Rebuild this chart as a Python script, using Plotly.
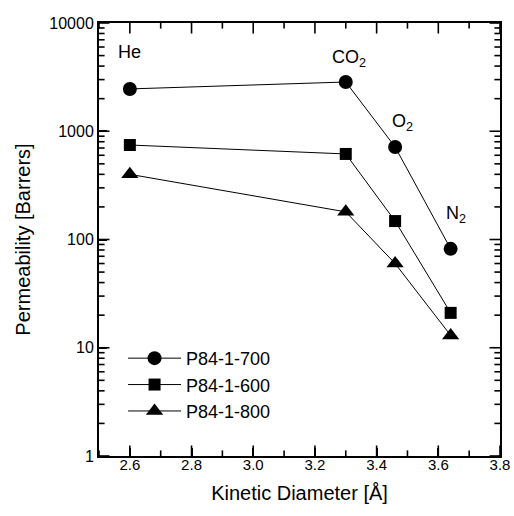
import math
import plotly.graph_objects as go

gases = ["He", "CO<sub>2</sub>", "O<sub>2</sub>", "N<sub>2</sub>"]
diam = [2.6, 3.3, 3.46, 3.64]
p700 = [2460, 2850, 716, 82]
p600 = [746, 617, 148, 21]
p800 = [400, 180, 60, 13]
ytickvals = [1, 10, 100, 1000, 10000]
yticktext = ["1", "10", "100", "1000", "10000"]
xtickvals = [2.6, 2.8, 3.0, 3.2, 3.4, 3.6, 3.8]
xticktext = ["2.6", "2.8", "3.0", "3.2", "3.4", "3.6", "3.8"]
xminor = [2.5, 2.7, 2.9, 3.1, 3.3, 3.5, 3.7]
yminor_mult = [2, 3, 4, 5, 6, 7, 8, 9]
label_x = [2.6, 3.31, 3.485, 3.657]
label_y = [5400, 4750, 1215, 172]
xrange_ = [2.5, 3.8]
yrange_ = [1, 10000]

yminor = [m * d for d in ytickvals[:-1] for m in yminor_mult]

fig = go.Figure()


def tick_trace(xs, ys, sym, size):
    fig.add_trace(go.Scatter(x=xs, y=ys, mode="markers", showlegend=False,
                             hoverinfo="skip", cliponaxis=True,
                             marker=dict(symbol=sym, size=size, color="black",
                                         line=dict(color="black", width=1.6))))


# tick marks on all four sides (inside), from the axis tick positions
for vals, size in [(xtickvals, 15), (xminor, 8)]:
    tick_trace(vals, [yrange_[0]] * len(vals), "line-ns", size)
    tick_trace(vals, [yrange_[1]] * len(vals), "line-ns", size)
for vals, size in [(ytickvals, 15), (yminor, 8)]:
    tick_trace([xrange_[0]] * len(vals), vals, "line-ew", size)
    tick_trace([xrange_[1]] * len(vals), vals, "line-ew", size)

for name, vals, sym, sz in [("P84-1-700", p700, "circle", 14),
                            ("P84-1-600", p600, "square", 12),
                            ("P84-1-800", p800, "triangle-up", 15)]:
    fig.add_trace(go.Scatter(x=diam, y=vals, name=name, mode="lines+markers",
                             line=dict(color="black", width=1),
                             marker=dict(symbol=sym, size=sz, color="black")))

for g, x, y in zip(gases, label_x, label_y):
    fig.add_annotation(x=x, y=math.log10(y), text=g, showarrow=False,
                       font=dict(size=18, color="black", family="Liberation Sans"))

fig.update_layout(
    template="none",
    width=514, height=516,
    margin=dict(l=99, r=14, t=23, b=60, autoexpand=False),
    plot_bgcolor="white", paper_bgcolor="white",
    font=dict(family="Liberation Sans", color="black", size=15),
    showlegend=True,
    legend=dict(x=0.06, y=0.268, xanchor="left", yanchor="top",
                font=dict(size=18, color="black"), itemwidth=53,
                bgcolor="rgba(0,0,0,0)", tracegroupgap=0),
    xaxis=dict(range=xrange_, tickvals=xtickvals, ticktext=xticktext,
               showline=True, linecolor="black", linewidth=2, mirror=True,
               ticks="inside", ticklen=8, tickwidth=2, tickcolor="black",
               showgrid=False, zeroline=False, automargin=False,
               ticklabeloverflow="allow", ticklabelstandoff=-6,
               title=dict(text="Kinetic Diameter [Å]", font=dict(size=20), standoff=14),
               tickfont=dict(size=15)),
    yaxis=dict(type="log", range=[math.log10(yrange_[0]), math.log10(yrange_[1])],
               tickvals=ytickvals, ticktext=yticktext,
               showline=True, linecolor="black", linewidth=2, mirror=True,
               ticks="inside", ticklen=8, tickwidth=2, tickcolor="black",
               showgrid=False, zeroline=False, automargin=False,
               ticklabeloverflow="allow",
               title=dict(text="Permeability [Barrers]", font=dict(size=20), standoff=13),
               tickfont=dict(size=16)),
)
fig.write_html("out.html", config={"displayModeBar": False},
               post_script="document.body.style.margin='0px';")
